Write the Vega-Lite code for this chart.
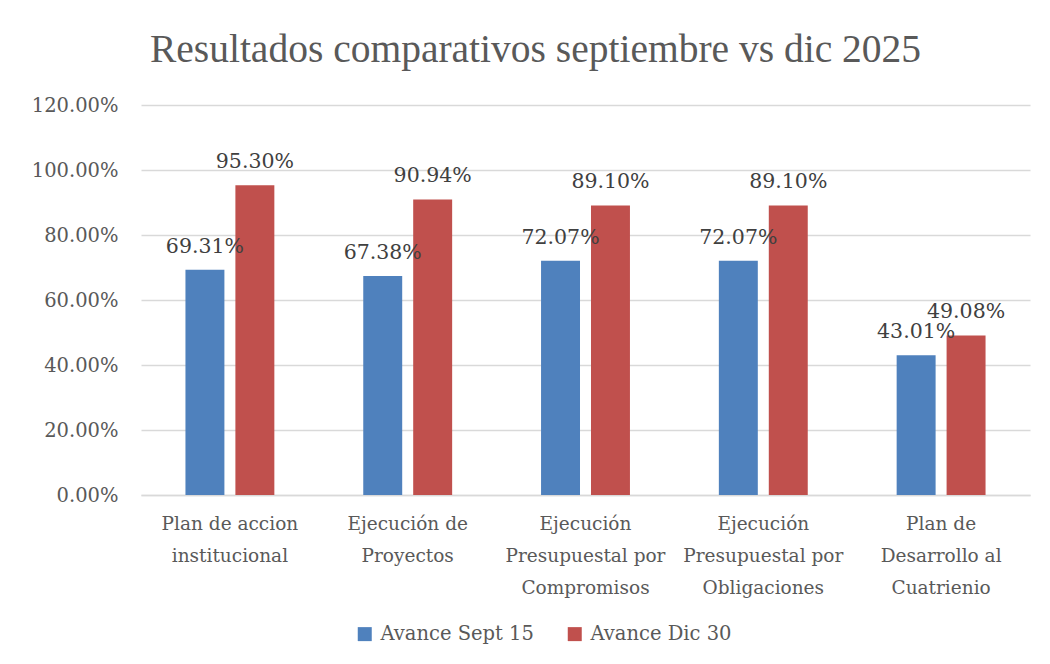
{
  "$schema": "https://vega.github.io/schema/vega-lite/v6.json",
  "autosize": "none",
  "width": 889,
  "height": 390,
  "padding": {"left": 141, "top": 105, "right": 20, "bottom": 169},
  "background": "white",
  "title": {
    "text": "Resultados comparativos septiembre vs dic 2025",
    "font": "Liberation Serif",
    "fontSize": 39.5,
    "fontWeight": "normal",
    "color": "#595959",
    "anchor": "middle",
    "dx": -50,
    "offset": 25
  },
  "data": {
    "values": [
      {"cat": "Plan de accion|institucional", "serie": "Avance Sept 15", "valor": 0.6931},
      {"cat": "Plan de accion|institucional", "serie": "Avance Dic 30", "valor": 0.9530},
      {"cat": "Ejecución de|Proyectos", "serie": "Avance Sept 15", "valor": 0.6738},
      {"cat": "Ejecución de|Proyectos", "serie": "Avance Dic 30", "valor": 0.9094},
      {"cat": "Ejecución|Presupuestal por|Compromisos", "serie": "Avance Sept 15", "valor": 0.7207},
      {"cat": "Ejecución|Presupuestal por|Compromisos", "serie": "Avance Dic 30", "valor": 0.8910},
      {"cat": "Ejecución|Presupuestal por|Obligaciones", "serie": "Avance Sept 15", "valor": 0.7207},
      {"cat": "Ejecución|Presupuestal por|Obligaciones", "serie": "Avance Dic 30", "valor": 0.8910},
      {"cat": "Plan de|Desarrollo al|Cuatrienio", "serie": "Avance Sept 15", "valor": 0.4301},
      {"cat": "Plan de|Desarrollo al|Cuatrienio", "serie": "Avance Dic 30", "valor": 0.4908}
    ]
  },
  "encoding": {
    "x": {
      "field": "cat",
      "type": "nominal",
      "sort": ["Plan de accion|institucional", "Ejecución de|Proyectos", "Ejecución|Presupuestal por|Compromisos", "Ejecución|Presupuestal por|Obligaciones", "Plan de|Desarrollo al|Cuatrienio"],
      "scale": {"paddingInner": 0.5, "paddingOuter": 0.25},
      "axis": {
        "title": null,
        "labelAngle": 0,
        "labelExpr": "split(datum.label, '|')",
        "labelFont": "DejaVu Serif",
        "labelFontSize": 18.5,
        "labelColor": "#595959",
        "labelLineHeight": 32,
        "labelPadding": 19,
        "labelBaseline": "top",
        "ticks": false,
        "domainColor": "#d9d9d9",
        "domainWidth": 1.5
      }
    },
    "xOffset": {
      "field": "serie",
      "type": "nominal",
      "sort": ["Avance Sept 15", "Avance Dic 30"],
      "scale": {"paddingInner": 0.22}
    },
    "y": {
      "field": "valor",
      "type": "quantitative",
      "scale": {"domain": [0, 1.2], "nice": false},
      "axis": {
        "title": null,
        "values": [0, 0.2, 0.4, 0.6, 0.8, 1.0, 1.2],
        "format": ".2%",
        "labelFont": "DejaVu Serif",
        "labelFontSize": 19.5,
        "labelColor": "#595959",
        "labelPadding": 23,
        "ticks": false,
        "domain": false,
        "gridColor": "#d9d9d9",
        "gridWidth": 1.5
      }
    },
    "color": {
      "field": "serie",
      "type": "nominal",
      "sort": ["Avance Sept 15", "Avance Dic 30"],
      "scale": {"domain": ["Avance Sept 15", "Avance Dic 30"], "range": ["#4F81BD", "#C0504D"]},
      "legend": {
        "title": null,
        "orient": "none",
        "legendX": 214,
        "legendY": 519,
        "direction": "horizontal",
        "symbolType": "square",
        "symbolSize": 196,
        "symbolStrokeWidth": 0,
        "symbolOffset": 0,
        "labelOffset": 6,
        "labelFont": "DejaVu Serif",
        "labelFontSize": 19.5,
        "labelColor": "#595959",
        "columnPadding": 31
      }
    }
  },
  "layer": [
    {"mark": {"type": "bar"}},
    {
      "mark": {"type": "text", "baseline": "alphabetic", "dy": -17, "font": "DejaVu Serif", "fontSize": 20.5, "color": "#404040"},
      "encoding": {
        "text": {"field": "valor", "type": "quantitative", "format": ".2%"},
        "color": {"value": "#404040"}
      }
    }
  ],
  "config": {"view": {"stroke": null}}
}
